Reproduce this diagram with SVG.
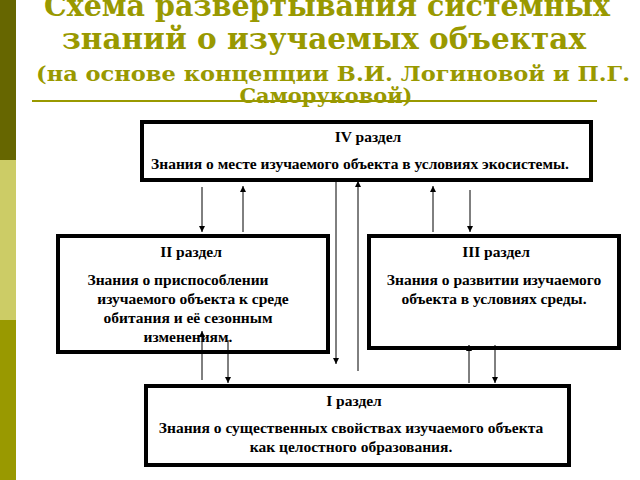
<svg xmlns="http://www.w3.org/2000/svg" width="640" height="480" viewBox="0 0 640 480">
<defs><marker id="a" markerWidth="8" markerHeight="8" refX="6" refY="3" orient="auto" markerUnits="userSpaceOnUse"><path d="M0,0 L6,3 L0,6 z" fill="#000"/></marker>
<style>
.t{font-family:"DejaVu Serif","Liberation Serif",serif;font-weight:bold;fill:#999900;text-anchor:middle}
.b{fill:#fff;stroke:#000;stroke-width:4}
.x{font-family:"Liberation Serif",serif;font-weight:bold;font-size:15.5px;fill:#000;text-anchor:middle}
.c{stroke:#000;stroke-width:1;fill:none;marker-end:url(#a)}
</style></defs>
<rect width="640" height="480" fill="#fff"/>
<rect x="0" y="0" width="16" height="160" fill="#666600"/>
<rect x="0" y="160" width="16" height="160" fill="#CCCC66"/>
<rect x="0" y="320" width="16" height="160" fill="#999900"/>
<text class="t" x="327" y="16" font-size="30" textLength="566" lengthAdjust="spacingAndGlyphs">Схема развертывания системных</text>
<text class="t" x="324" y="49" font-size="30" textLength="524" lengthAdjust="spacingAndGlyphs">знаний о изучаемых объектах</text>
<text class="t" x="333" y="81" font-size="21" textLength="594" lengthAdjust="spacingAndGlyphs">(на основе концепции В.И. Логиновой и П.Г.</text>
<line x1="32" y1="101" x2="597" y2="101" stroke="#999900" stroke-width="2"/>
<text class="t" x="326" y="103" font-size="21" textLength="173" lengthAdjust="spacingAndGlyphs">Саморуковой)</text>
<g id="n4"><rect class="b" x="142" y="122" width="449" height="58"/>
<text class="x" x="368" y="142">IV раздел</text>
<text class="x" x="360" y="169">Знания о месте изучаемого объекта в условиях экосистемы.</text></g>
<g id="n2"><rect class="b" x="58" y="236" width="270" height="116"/>
<text class="x" x="191" y="257">II раздел</text>
<text class="x" x="178" y="285">Знания о приспособлении</text>
<text class="x" x="193" y="304">изучаемого объекта к среде</text>
<text class="x" x="188" y="323">обитания и её сезонным</text>
<text class="x" x="188" y="342">изменениям.</text></g>
<g id="n3"><rect class="b" x="369" y="236" width="250" height="112"/>
<text class="x" x="496" y="257">III раздел</text>
<text class="x" x="494" y="285">Знания о развитии изучаемого</text>
<text class="x" x="494" y="304">объекта  в условиях среды.</text></g>
<g id="n1"><rect class="b" x="146" y="386" width="423" height="79"/>
<text class="x" x="354" y="406">I раздел</text>
<text class="x" x="351" y="433">Знания о существенных свойствах изучаемого объекта</text>
<text class="x" x="351" y="452">как целостного образования.</text></g>
<g id="edges">
<line class="c" x1="202" y1="187" x2="202" y2="232"/>
<line class="c" x1="243" y1="232" x2="243" y2="186"/>
<line class="c" x1="336" y1="181" x2="336" y2="364"/>
<line class="c" x1="358" y1="371" x2="358" y2="181"/>
<line class="c" x1="433" y1="232" x2="433" y2="186"/>
<line class="c" x1="470" y1="190" x2="470" y2="232"/>
<line class="c" x1="202" y1="380" x2="202" y2="331"/>
<line class="c" x1="228" y1="340" x2="228" y2="383"/>
<line class="c" x1="469" y1="383" x2="469" y2="345"/>
<line class="c" x1="495" y1="345" x2="495" y2="383"/>
</g>
</svg>
